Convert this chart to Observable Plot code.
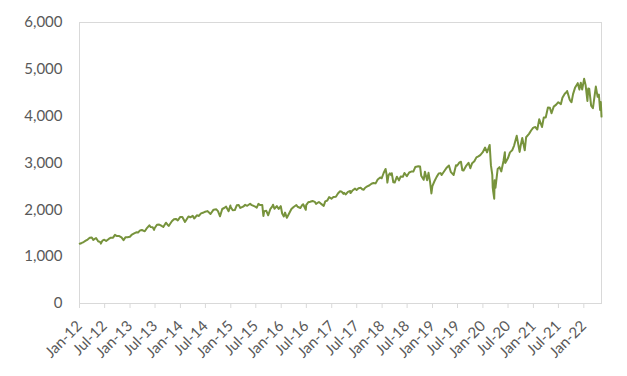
<!DOCTYPE html>
<html>
<head>
<meta charset="utf-8">
<script src="https://cdn.jsdelivr.net/npm/d3@7"></script>
<script src="https://cdn.jsdelivr.net/npm/@observablehq/plot@0.6"></script>
<style>
  html, body { margin: 0; padding: 0; background: #fff; }
  #chart { width: 627px; height: 376px; }
</style>
</head>
<body>
<div id="chart"></div>
<script>
// Dates (ISO) and index levels
const dates = [
"2012-01-03","2012-01-17","2012-01-31","2012-02-15","2012-02-29","2012-03-15","2012-03-30","2012-04-10","2012-04-30","2012-05-15","2012-05-31","2012-06-04","2012-06-15","2012-06-29","2012-07-12","2012-07-31","2012-08-15","2012-08-31","2012-09-14","2012-09-28","2012-10-15","2012-10-31","2012-11-15","2012-11-30","2012-12-14","2012-12-31",
"2013-01-15","2013-01-31","2013-02-15","2013-02-28","2013-03-15","2013-03-28","2013-04-18","2013-04-30","2013-05-21","2013-05-31","2013-06-14","2013-06-24","2013-06-28","2013-07-15","2013-07-31","2013-08-15","2013-08-30","2013-09-18","2013-09-30","2013-10-08","2013-10-31","2013-11-15","2013-11-29","2013-12-13","2013-12-31",
"2014-01-15","2014-02-03","2014-02-28","2014-03-14","2014-03-31","2014-04-11","2014-04-30","2014-05-15","2014-05-30","2014-06-13","2014-06-30","2014-07-15","2014-07-31","2014-08-07","2014-08-29","2014-09-18","2014-09-30","2014-10-15","2014-10-31","2014-11-14","2014-11-28","2014-12-16","2014-12-29","2014-12-31",
"2015-01-15","2015-01-30","2015-02-13","2015-02-27","2015-03-11","2015-03-31","2015-04-15","2015-04-30","2015-05-21","2015-05-29","2015-06-15","2015-06-30","2015-07-08","2015-07-20","2015-07-31","2015-08-17","2015-08-25","2015-08-31","2015-09-15","2015-09-29","2015-10-15","2015-10-30","2015-11-03","2015-11-13","2015-11-30","2015-12-14","2015-12-29","2015-12-31",
"2016-01-08","2016-01-20","2016-01-29","2016-02-11","2016-02-29","2016-03-15","2016-03-31","2016-04-20","2016-04-29","2016-05-19","2016-05-31","2016-06-08","2016-06-27","2016-06-30","2016-07-15","2016-07-29","2016-08-15","2016-08-31","2016-09-09","2016-09-30","2016-10-14","2016-11-04","2016-11-15","2016-11-30","2016-12-13","2016-12-30",
"2017-01-13","2017-01-31","2017-02-15","2017-03-01","2017-03-15","2017-03-27","2017-03-31","2017-04-13","2017-04-28","2017-05-15","2017-05-17","2017-05-31","2017-06-19","2017-06-30","2017-07-14","2017-07-31","2017-08-10","2017-08-21","2017-08-31","2017-09-15","2017-09-29","2017-10-16","2017-10-31","2017-11-15","2017-11-30","2017-12-18","2017-12-29",
"2018-01-12","2018-01-26","2018-02-02","2018-02-08","2018-02-16","2018-02-26","2018-03-08","2018-03-12","2018-03-23","2018-04-02","2018-04-18","2018-05-03","2018-05-15","2018-05-31","2018-06-12","2018-06-29","2018-07-16","2018-07-31","2018-08-15","2018-08-29","2018-09-20","2018-10-03","2018-10-11","2018-10-29","2018-11-07","2018-11-23","2018-12-03","2018-12-14","2018-12-24","2018-12-31",
"2019-01-15","2019-01-31","2019-02-15","2019-02-28","2019-03-08","2019-03-29","2019-04-15","2019-04-30","2019-05-13","2019-05-31","2019-06-03","2019-06-20","2019-06-28","2019-07-15","2019-07-26","2019-08-05","2019-08-14","2019-08-30","2019-09-19","2019-10-02","2019-10-15","2019-10-31","2019-11-15","2019-11-29","2019-12-13","2019-12-31",
"2020-01-17","2020-01-31","2020-02-19","2020-02-28","2020-03-09","2020-03-12","2020-03-16","2020-03-23","2020-03-26","2020-04-01","2020-04-17","2020-04-30","2020-05-13","2020-05-29","2020-06-08","2020-06-11","2020-06-30","2020-07-15","2020-07-31","2020-08-14","2020-09-02","2020-09-23","2020-09-30","2020-10-12","2020-10-30","2020-11-09","2020-11-30","2020-12-15","2020-12-31",
"2021-01-15","2021-01-29","2021-02-12","2021-03-04","2021-03-17","2021-03-31","2021-04-16","2021-04-30","2021-05-12","2021-05-28","2021-06-15","2021-06-30","2021-07-19","2021-07-30","2021-08-16","2021-08-31","2021-09-02","2021-09-20","2021-09-30","2021-10-04","2021-10-15","2021-10-29","2021-11-18","2021-11-30","2021-12-10","2021-12-20","2022-01-03",
"2022-01-14","2022-01-27","2022-02-02","2022-02-09","2022-02-23","2022-03-08","2022-03-29","2022-04-11","2022-04-20","2022-04-29","2022-05-04","2022-05-09"
];
const values = [
1277,1293,1312,1343,1366,1402,1408,1358,1398,1330,1310,1278,1342,1362,1334,1379,1405,1406,1465,1441,1440,1412,1353,1416,1413,1426,
1472,1498,1520,1515,1561,1569,1541,1597,1669,1631,1626,1573,1606,1683,1686,1661,1633,1725,1682,1656,1757,1798,1806,1775,1848,
1848,1742,1859,1841,1872,1815,1884,1870,1924,1937,1960,1973,1931,1910,2003,2011,1972,1862,2018,2039,2068,1972,2091,2059,
1992,1995,2097,2104,2040,2068,2106,2086,2131,2107,2084,2063,2047,2128,2104,2102,1868,1972,1979,1884,2023,2079,2109,2023,2080,2021,2078,2044,
1922,1859,1940,1829,1932,2016,2060,2102,2065,2040,2097,2119,2001,2099,2162,2174,2190,2171,2128,2168,2133,2085,2180,2199,2271,2239,
2275,2279,2349,2396,2385,2342,2363,2329,2384,2402,2357,2412,2453,2423,2459,2470,2438,2428,2472,2500,2519,2557,2575,2565,2648,2690,2674,
2786,2873,2762,2581,2732,2780,2738,2783,2588,2582,2708,2630,2711,2705,2786,2718,2798,2816,2818,2914,2931,2925,2728,2641,2814,2633,2790,2600,2351,2507,
2610,2704,2776,2784,2743,2834,2905,2946,2812,2752,2744,2954,2942,3014,3026,2845,2840,2926,3006,2888,2996,3038,3120,3141,3169,3231,
3330,3226,3386,2954,2747,2481,2386,2237,2630,2470,2875,2912,2820,3044,3232,3002,3100,3227,3271,3373,3580,3237,3363,3534,3270,3550,3622,3694,3756,
3768,3714,3934,3768,3974,3973,4185,4181,4063,4204,4246,4298,4258,4395,4479,4523,4537,4358,4308,4300,4471,4605,4705,4567,4712,4568,4797,
4663,4326,4589,4587,4226,4171,4632,4413,4459,4132,4300,3991
];
const yTicks = [0, 1000, 2000, 3000, 4000, 5000, 6000];
const xTickDates = ["2012-01-01","2012-07-01","2013-01-01","2013-07-01","2014-01-01","2014-07-01","2015-01-01","2015-07-01","2016-01-01","2016-07-01","2017-01-01","2017-07-01","2018-01-01","2018-07-01","2019-01-01","2019-07-01","2020-01-01","2020-07-01","2021-01-01","2021-07-01","2022-01-01"];
const xDomain = ["2012-01-01", "2022-05-09"];

const parse = d3.utcParse("%Y-%m-%d");
const data = dates.map((d, i) => ({date: parse(d), value: values[i]}));
const xt = xTickDates.map(parse);
const fmtX = d3.utcFormat("%b-%y");

const chart = Plot.plot({
  width: 627,
  height: 376,
  marginLeft: 79,
  marginRight: 26,
  marginTop: 22,
  marginBottom: 73,
  style: {fontFamily: "Lato, 'Open Sans', sans-serif", fontSize: "15px", color: "#595959", background: "#fff"},
  x: {type: "utc", domain: xDomain.map(parse), label: null},
  y: {domain: [0, 6000], label: null},
  marks: [
    Plot.frame({stroke: "#d9d9d9"}),
    Plot.axisY(yTicks, {tickSize: 0, tickPadding: 17, tickFormat: d3.format(","), fill: "#595959", fontSize: 15, label: null}),
    Plot.axisX(xt, {tickSize: 5, stroke: "#d9d9d9", tickRotate: -45, tickPadding: 15, tickFormat: fmtX, fill: "#595959", fontSize: 15, label: null}),
    Plot.line(data, {x: "date", y: "value", stroke: "#77933c", strokeWidth: 2})
  ]
});
document.getElementById("chart").appendChild(chart);
</script>
</body>
</html>
